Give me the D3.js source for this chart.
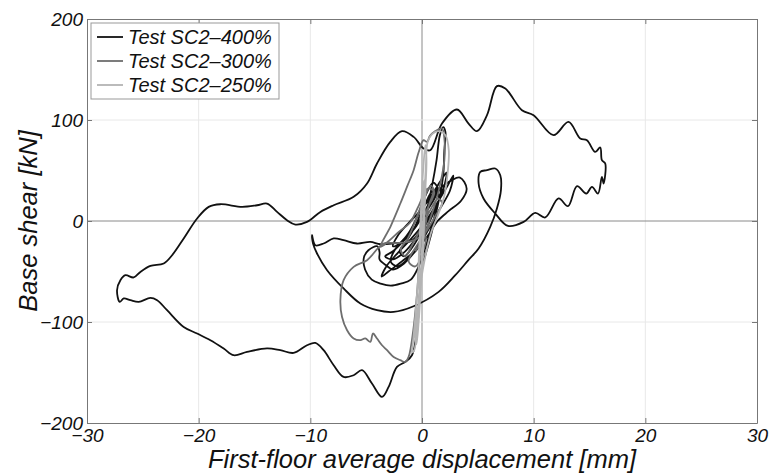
<!DOCTYPE html>
<html>
<head>
<meta charset="utf-8">
<script src="https://cdn.jsdelivr.net/npm/d3@7"></script>
<style>
  body { margin: 0; background: #fff; }
  text { font-family: "Liberation Sans", Arial, sans-serif; font-style: italic; }
</style>
</head>
<body>
<div id="chart"></div>
<script>
// tick values
var xTicks = [-30, -20, -10, 0, 10, 20, 30];
var yTicks = [-200, -100, 0, 100, 200];

var seriesNames = ["Test SC2\u2013400%", "Test SC2\u2013300%", "Test SC2\u2013250%"];
var seriesColors = ["#111111", "#6e6e6e", "#b4b4b4"];

// [displacement mm, base shear kN]
var s400 = [
  [0.2, 5], [0.8, 20], [1.4, 32], [1.0, 38], [0.3, 25], [-0.4, 5], [-1.2, -12], [-2.0, -22], [-2.6, -25],
  [-2.2, -15], [-1.2, -2], [0.0, 12], [1.0, 28], [1.8, 42], [2.2, 48], [2.0, 35], [1.3, 15], [0.5, -5],
  [-0.4, -25], [-1.3, -38], [-2.2, -45], [-2.8, -40], [-2.4, -28], [-1.4, -16], [-0.2, 0], [0.9, 18],
  [1.7, 33], [2.6, 40], [3.4, 43], [4.0, 32], [3.5, 20], [2.4, 10], [1.4, 0], [0.5, -15], [-0.6, -30],
  [-1.6, -42], [-2.6, -48], [-3.2, -44], [-3.8, -38], [-3.8, -31], [-4.0, -25], [-4.8, -29], [-5.2, -36],
  [-5.1, -48], [-4.5, -58], [-3.7, -62], [-2.8, -64], [-1.9, -62], [-1.0, -58], [-0.3, -45], [0.2, -30],
  [0.7, -12], [1.2, 8], [1.6, 25], [1.9, 45], [2.0, 70], [2.1, 88], [1.9, 93], [1.6, 85], [1.3, 60],
  [0.9, 35], [0.4, 10], [-0.2, -10], [-1.0, -20], [-2.4, -22],
  [-3.73, -23.0], [-4.63, -20.7], [-5.82, -22.3], [-7.02, -19.0], [-7.91, -17.3], [-8.81, -22.3],
  [-9.55, -24.0], [-9.85, -14.1], [-9.76, -22.3], [-9.40, -32.2], [-8.50, -48.7], [-7.02, -66.8],
  [-5.52, -81.7], [-4.03, -88.3], [-2.54, -90.0], [-0.75, -84.4], [1.49, -70.2], [2.98, -53.7],
  [4.15, -38.8], [5.07, -27.2], [6.11, -5.8], [6.71, 12.4], [7.07, 30.5], [7.01, 45.3], [6.56, 52.0],
  [5.82, 50.3], [5.22, 48.6], [5.07, 37.1], [5.51, 22.3], [6.56, 7.4], [7.70, -4.9], [9.10, -0.9],
  [10.14, 8.0], [11.04, 3.5], [12.23, 22.3], [13.07, 14.7], [13.88, 34.5], [14.71, 27.2], [15.22, 33.8],
  [15.76, 27.2], [16.11, 43.7], [16.26, 37.1], [16.41, 56.9], [16.11, 60.2], [15.96, 72.8], [15.51, 68.4],
  [14.77, 80.0], [14.17, 81.7], [13.12, 98.1], [11.78, 85.0], [9.99, 104.8], [8.95, 109.7], [7.46, 131.2],
  [6.71, 133.5], [5.82, 104.8], [4.92, 88.9], [4.17, 96.5], [3.13, 110.4], [1.79, 96.5], [0.74, 70.1],
  [0.14, 71.8], [-0.75, 83.3], [-1.79, 88.9], [-2.84, 78.3], [-4.03, 56.9], [-4.92, 37.1], [-6.12, 23.9],
  [-7.91, 15.6], [-9.10, 9.0], [-10.30, -0.9], [-11.34, -3.5], [-12.09, 0.8], [-12.98, 9.0], [-13.88, 17.3],
  [-14.77, 15.6], [-16.11, 14.0], [-18.06, 16.6], [-19.10, 14.0], [-20.14, 2.5], [-21.34, -17.3],
  [-22.38, -33.9], [-23.13, -42.1], [-24.32, -44.5], [-25.22, -50.4], [-25.82, -55.9], [-26.56, -53.7],
  [-27.01, -58.7], [-27.31, -68.5], [-27.07, -80.1], [-26.71, -76.7], [-26.11, -78.4], [-25.37, -80.1],
  [-24.32, -76.1], [-23.72, -78.4], [-22.83, -88.3], [-21.34, -104.9], [-20.14, -111.4], [-18.95, -118.0],
  [-17.76, -126.2], [-16.87, -132.9], [-15.67, -129.6], [-13.88, -126.2], [-12.69, -127.9], [-11.50, -130.6],
  [-10.30, -123.0], [-9.55, -120.7], [-8.81, -127.9], [-7.91, -142.8], [-7.02, -154.4], [-6.12, -152.7],
  [-5.37, -147.7], [-4.48, -160.9], [-3.58, -174.2], [-2.99, -164.3], [-2.24, -144.5], [-1.50, -139.5],
  [-0.90, -132.9], [-0.45, -108.1], [-0.24, -78.4], [-0.06, -48.7], [0.4, -30], [0.9, -10], [1.3, 10],
  [1.5, 25], [1.0, 30], [0.2, 15], [-0.6, -5], [-1.4, -20], [-2.0, -30], [-1.6, -35], [-0.8, -25],
  [0.0, -10], [0.6, 2], [1.5, 20], [2.3, 35], [2.8, 45], [2.5, 30], [1.6, 12], [0.6, -8], [-0.5, -28],
  [-1.8, -40], [-3.0, -50], [-3.6, -55], [-3.2, -45], [-2.2, -32], [-1.0, -18], [0.2, -2], [1.2, 15],
  [1.9, 30], [1.4, 32], [0.5, 15], [-0.5, -5], [-1.5, -18], [-2.6, -30], [-3.3, -35], [-2.6, -38],
  [-1.5, -30], [-0.4, -15], [0.5, 0]
];

var s300 = [
  [0, 0], [0.6, 15], [1.1, 28], [0.8, 35], [0.1, 20], [-0.6, 0], [-1.3, -18], [-1.9, -28], [-1.5, -35],
  [-0.8, -22], [0.0, -5], [0.7, 10], [1.4, 22], [1.8, 18], [1.2, 5], [0.4, -10], [-0.5, -25], [-1.2, -40],
  [-0.6, -45], [0.1, -30], [0.3, -15], [-1.0, -20], [-2.2, -22],
  [-3.44, -22.3], [-4.92, -38.8], [-6.12, -45.4], [-7.02, -58.6], [-7.31, -78.4], [-7.16, -95.0],
  [-6.71, -108.1], [-6.12, -116.3], [-5.52, -118.0], [-5.08, -116.3], [-4.63, -119.7], [-4.39, -111.4],
  [-4.03, -116.3], [-3.58, -123.0], [-3.13, -127.9], [-2.54, -134.6], [-1.94, -137.8], [-1.50, -139.5],
  [-1.20, -134.6], [-0.78, -108.0], [-0.42, -68.6], [-0.15, -29.0], [0.3, -5], [0.6, 15], [1.0, 30],
  [0.5, 32], [-0.3, 15], [-1.1, -2], [-2.0, -10], [-3.0, -20], [-3.73, -25.6], [-2.8, -5], [-1.94, 17.3],
  [-1.3, 35], [-0.75, 50.3], [-0.3, 68], [0.14, 80], [0.45, 78.3], [0.7, 84], [1.2, 89], [1.79, 91.6],
  [2.0, 82], [2.0, 60], [1.7, 40], [1.2, 18], [0.6, -2], [0.0, -20], [-0.6, -30]
];

var s250 = [
  [0, 0], [-0.2, -30], [-0.4, -65], [-0.6, -95], [-0.8, -120], [-0.9, -130], [-0.7, -128], [-0.4, -100],
  [-0.15, -60], [0.05, -20], [0.2, 20], [0.35, 55], [0.5, 78], [0.9, 86], [1.5, 89], [2.1, 85], [2.4, 70],
  [2.3, 48], [2.0, 25], [1.4, 5], [0.8, -12], [0.3, -35], [-0.1, -60], [-0.4, -90], [-0.6, -115],
  [-0.5, -122], [-0.3, -100], [-0.1, -65], [0.1, -30], [0.2, 0], [0.3, 30], [0.4, 60], [0.3, 75],
  [0.1, 50], [-0.05, 20], [-0.2, -15], [-0.3, -45], [-0.2, -70], [0.0, -40], [0.15, -5], [0.3, 35],
  [0.2, 40], [0.0, 10], [-0.15, -20]
];

var series = [s400, s300, s250];

var width = 769, height = 474;
var plot = { left: 87, right: 757, top: 19, bottom: 423 };

var svg = d3.select("#chart").append("svg")
    .attr("width", width)
    .attr("height", height);

var x = d3.scaleLinear().domain([-30, 30]).range([plot.left, plot.right]);
var y = d3.scaleLinear().domain([-200, 200]).range([plot.bottom, plot.top]);

// grid
svg.append("g").selectAll("line.gx")
    .data(xTicks.slice(1, -1))
    .enter().append("line")
    .attr("x1", function (d) { return x(d); })
    .attr("x2", function (d) { return x(d); })
    .attr("y1", plot.top).attr("y2", plot.bottom)
    .attr("stroke", function (d) { return d === 0 ? "#8a8a8a" : "#e8e8e8"; })
    .attr("stroke-width", 1);

svg.append("g").selectAll("line.gy")
    .data(yTicks.slice(1, -1))
    .enter().append("line")
    .attr("y1", function (d) { return y(d); })
    .attr("y2", function (d) { return y(d); })
    .attr("x1", plot.left).attr("x2", plot.right)
    .attr("stroke", function (d) { return d === 0 ? "#8a8a8a" : "#e8e8e8"; })
    .attr("stroke-width", 1);

// axes, ticks pointing in
function styleAxis(g) {
    g.selectAll(".domain").attr("stroke", "#777");
    g.selectAll(".tick line").attr("stroke", "#777");
    g.selectAll("text").attr("fill", "#111").style("font-size", "19px").style("font-style", "italic");
}

svg.append("g")
    .attr("transform", "translate(0," + plot.bottom + ")")
    .call(d3.axisBottom(x).tickValues(xTicks).tickSizeInner(-5).tickSizeOuter(0).tickPadding(6).tickFormat(d3.format("d")))
    .call(styleAxis);

svg.append("g")
    .attr("transform", "translate(" + plot.left + ",0)")
    .call(d3.axisLeft(y).tickValues(yTicks).tickSizeInner(-5).tickSizeOuter(0).tickPadding(4).tickFormat(d3.format("d")))
    .call(styleAxis);

svg.append("g")
    .attr("transform", "translate(0," + plot.top + ")")
    .call(d3.axisTop(x).tickValues(xTicks).tickSizeInner(-5).tickSizeOuter(0).tickFormat(""))
    .call(styleAxis);

svg.append("g")
    .attr("transform", "translate(" + plot.right + ",0)")
    .call(d3.axisRight(y).tickValues(yTicks).tickSizeInner(-5).tickSizeOuter(0).tickFormat(""))
    .call(styleAxis);

// curves
var line = d3.line()
    .x(function (d) { return x(d[0]); })
    .y(function (d) { return y(d[1]); })
    .curve(d3.curveCatmullRom.alpha(0.5));

svg.append("g").selectAll("path.curve")
    .data(series)
    .enter().append("path")
    .attr("class", "curve")
    .attr("d", line)
    .attr("fill", "none")
    .attr("stroke", function (d, i) { return seriesColors[i]; })
    .attr("stroke-width", 1.8)
    .attr("stroke-linejoin", "round");

// legend
var legend = svg.append("g").attr("transform", "translate(91,23)");
legend.append("rect")
    .attr("width", 188).attr("height", 76)
    .attr("fill", "#fff").attr("stroke", "#999");

var rows = legend.selectAll("g.row")
    .data(seriesNames)
    .enter().append("g")
    .attr("transform", function (d, i) { return "translate(0," + (14 + i * 24) + ")"; });

rows.append("line")
    .attr("x1", 6).attr("x2", 32)
    .attr("stroke", function (d, i) { return seriesColors[i]; })
    .attr("stroke-width", 1.8);

rows.append("text")
    .attr("x", 37).attr("y", 7)
    .style("font-size", "20px")
    .attr("fill", "#111")
    .text(function (d) { return d; });

// axis titles
svg.append("text")
    .attr("x", (plot.left + plot.right) / 2)
    .attr("y", 468)
    .attr("text-anchor", "middle")
    .style("font-size", "25.5px")
    .attr("fill", "#111")
    .text("First-floor average displacement [mm]");

svg.append("text")
    .attr("transform", "translate(37," + ((plot.top + plot.bottom) / 2) + ") rotate(-90)")
    .attr("text-anchor", "middle")
    .style("font-size", "25.5px")
    .attr("fill", "#111")
    .text("Base shear [kN]");
</script>
</body>
</html>
